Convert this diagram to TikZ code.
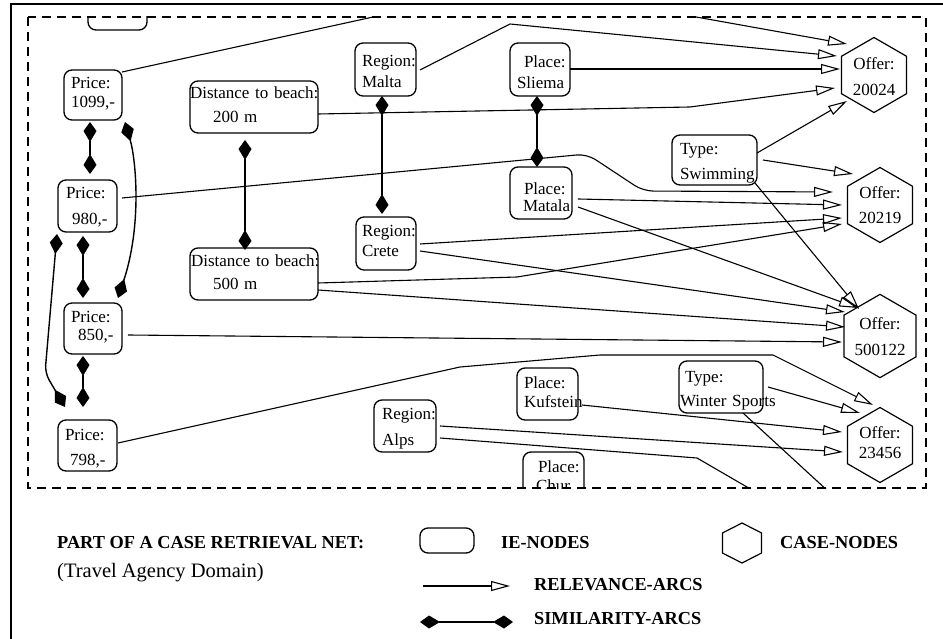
\documentclass[tikz,border=0pt]{standalone}
\usepackage{fontspec}
\setmainfont{Liberation Serif}
\usetikzlibrary{arrows.meta,shapes.geometric}

\newcommand\ienodefont{\fontsize{17}{20}\selectfont}
\newcommand\legendfont{\fontsize{18.3}{22}\selectfont\bfseries}
\newcommand\domainfont{\fontsize{20.5}{24}\selectfont}
% two lines of an IE node: first-line strut, extra line gap, two indents, two texts
\newcommand\ietwo[6]{\rule{0pt}{#1pt}\hspace*{#3pt}\mbox{#5}\\[#2pt]\rule[-5pt]{0pt}{5pt}\hspace*{#4pt}\mbox{#6}}
% two lines of a case node: first-line strut, extra gap, last-line depth, number
\newcommand\offertwo[4]{\rule{0pt}{#1pt}Offer:\\[#2pt]\rule[-#3pt]{0pt}{#3pt}#4}

\tikzset{
  ie/.style 2 args={draw, rounded corners=8pt, line width=1.3pt, inner sep=0pt,
    align=left, font=\ienodefont, minimum width=#1pt, text width=#1pt, minimum height=#2pt},
  casenode/.style={draw, regular polygon, regular polygon sides=6, shape border rotate=90,
    minimum size=75pt, inner sep=0pt, line width=1.2pt, align=center, font=\ienodefont},
  rel/.style={line width=1.1pt, -{Triangle[open, length=19pt, width=10pt]}},
  sim/.style={line width=1.4pt, {Kite[length=20pt, width=13pt, inset=11pt]}-{Kite[length=20pt, width=13pt, inset=11pt]}},
  legtext/.style={font=\legendfont, anchor=base west, inner sep=0pt},
  frame/.style={line width=2.5pt},
  netbox/.style={line width=1.5pt, dash pattern=on 9pt off 6pt}
}

\begin{document}
\begin{tikzpicture}[x=1pt, y=-1pt]
\useasboundingbox (0,0) rectangle (943,639);

% outer frame (left and top edges)
\draw[frame] (11,639) -- (11,4) -- (943,4);

\begin{scope}
\clip (28,17) rectangle (926,488);

% information-entity nodes
\node[ie={59}{52}] (topie) at (117.5,4) {};
\node[ie={58}{50}] (p1099) at (93,95) {\ietwo{12}{-1}{7}{7}{Price:}{1099,-}};
\node[ie={128}{52}] (d200) at (254,107) {\ietwo{11}{4}{0}{23}{Distance to beach:}{200 m}};
\node[ie={61}{53}] (malta) at (385.5,69.5) {\ietwo{21}{1}{7}{7}{Region:}{Malta}};
\node[ie={60}{53}] (sliema) at (540,69.5) {\ietwo{23}{1}{14}{7}{Place:}{Sliema}};
\node[ie={85}{50}] (swim) at (714.5,160) {\ietwo{20}{5}{8}{8}{Type:}{Swimming}};
\node[ie={62}{52}] (matala) at (541,193) {\ietwo{26}{-3}{14}{13}{Place:}{Matala}};
\node[ie={59}{52}] (p980) at (87.5,206) {\ietwo{17}{6}{8}{14}{Price:}{980,-}};
\node[ie={60}{53}] (crete) at (386,243.5) {\ietwo{12}{0}{6}{6}{Region:}{Crete}};
\node[ie={128}{52}] (d500) at (254,274) {\ietwo{14}{3}{1}{23}{Distance to beach:}{500 m}};
\node[ie={58}{51}] (p850) at (93,328.5) {\ietwo{12}{-2}{7}{14}{Price:}{850,-}};
\node[ie={84}{52}] (winter) at (721,387) {\ietwo{19}{4}{6}{1}{Type:}{Winter Sports}};
\node[ie={61}{52}] (kuf) at (547.5,394) {\ietwo{12}{-1}{7}{7}{Place:}{Kufstein}};
\node[ie={62}{52}] (alps) at (405,426) {\ietwo{17}{6}{8}{8}{Region:}{Alps}};
\node[ie={59}{51}] (p798) at (87.5,445.5) {\ietwo{19}{5}{7}{12}{Price:}{798,-}};
\node[ie={61}{52}] (chur) at (553.5,478) {\ietwo{12}{-1}{15}{13}{Place:}{Chur}};

% case nodes
\node[casenode] (o20024) at (874,75) {\offertwo{16}{6}{0}{20024}};
\node[casenode] (o20219) at (880,205) {\offertwo{13}{5}{0}{20219}};
\node[casenode] (o500122) at (880,336) {\offertwo{14}{6}{0}{500122}};
\node[casenode] (o23456) at (880,445) {\offertwo{12}{0}{6}{23456}};

% loose ends of arcs leaving the shown part of the net
\coordinate (exitA) at (790,512);
\coordinate (exitB) at (854,515);

% relevance arcs
\draw[rel] ([shift={(29,-23)}]p1099.center) -- (405,10) -- (657,10) -- ([shift={(-27,-31)}]o20024.center);
\draw[rel] ([shift={(34.5,0.5)}]malta.center) -- (510,24) -- ([shift={(-37,-19)}]o20024.center);
\draw[rel] ([shift={(30,-0.5)}]sliema.center) -- ([shift={(-34,-6)}]o20024.center);
\draw[rel] ([shift={(64,7)}]d200.center) -- (690,107) -- ([shift={(-39,13)}]o20024.center);
\draw[rel] ([shift={(42.5,-7)}]swim.center) -- ([shift={(-27,26)}]o20024.center);

\draw[rel, rounded corners=10pt] ([shift={(34.5,-8)}]p980.center) -- (587,154) -- (643,191) -- ([shift={(-47,-13)}]o20219.center);
\draw[rel] ([shift={(48.5,0)}]swim.center) -- ([shift={(-27,-31)}]o20219.center);
\draw[rel] ([shift={(37,6)}]matala.center) -- ([shift={(-38,0)}]o20219.center);
\draw[rel] ([shift={(34,0.5)}]crete.center) -- ([shift={(-38,13)}]o20219.center);
\draw[rel] ([shift={(64,9)}]d500.center) -- (517,277) -- ([shift={(-38,19)}]o20219.center);

\draw[rel] ([shift={(37,14)}]matala.center) -- ([shift={(-22,-28)}]o500122.center);
\draw[rel] ([shift={(40.5,23)}]swim.center) -- ([shift={(-21,-27)}]o500122.center);
\draw[rel] ([shift={(34,7.5)}]crete.center) -- ([shift={(-35,-24)}]o500122.center);
\draw[rel] ([shift={(64,16)}]d500.center) -- ([shift={(-35,-9)}]o500122.center);
\draw[rel] ([shift={(35,6.5)}]p850.center) -- ([shift={(-38,6)}]o500122.center);

\draw[rel] ([shift={(30.5,-2.5)}]p798.center) -- (460,367) -- (600,355) -- (773,355) -- ([shift={(-7,-40)}]o23456.center);
\draw[rel] ([shift={(47,0)}]winter.center) -- ([shift={(-20,-32)}]o23456.center);
\draw[rel] ([shift={(34.5,11)}]kuf.center) -- ([shift={(-38,-13)}]o23456.center);
\draw[rel] ([shift={(35,0)}]alps.center) -- ([shift={(-37,7)}]o23456.center);
\draw[line width=1.1pt] ([shift={(35,12)}]alps.center) -- (697,458) -- (exitA);
\draw[line width=1.1pt] ([shift={(22,26)}]winter.center) -- (exitB);

% similarity arcs
\draw[sim] ([shift={(-3,27)}]p1099.center) -- ([shift={(2.5,-32)}]p980.center);
\draw[sim] ([shift={(32,27)}]p1099.center) .. controls (136,160) and (142,225) .. ([shift={(25,-30.5)}]p850.center);
\draw[sim] ([shift={(-4.5,30)}]p980.center) -- ([shift={(-10,-30.5)}]p850.center);
\draw[sim, rounded corners=8pt] ([shift={(-30.5,28)}]p980.center) -- (45,373) -- ([shift={(-22.5,-38.5)}]p798.center);
\draw[sim] ([shift={(-10,27.5)}]p850.center) -- ([shift={(-4.5,-38.5)}]p798.center);
\draw[sim] ([shift={(-9,33)}]d200.center) -- ([shift={(-9,-24)}]d500.center);
\draw[sim] ([shift={(-3.5,26.5)}]malta.center) -- ([shift={(-4,-29.5)}]crete.center);
\draw[sim] ([shift={(-3,26.5)}]sliema.center) -- ([shift={(-4,-26)}]matala.center);
\end{scope}

% border of the shown part of the net
\draw[netbox] (28,17) rectangle (926,488);

% legend
\node[legtext] (title) at (57,548) {PART OF A CASE RETRIEVAL NET:};
\node[font=\domainfont, anchor=base west, inner sep=0pt] (domain) at (57,577) {(Travel Agency Domain)};
\node[ie={54}{25}] (iekey) at (447,540.5) {};
\node[legtext] (ielabel) at (501,548) {IE-NODES};
\node[casenode, minimum size=40pt, xscale=1.13, transform shape] (casekey) at (742,543) {};
\node[legtext] (caselabel) at (780,548) {CASE-NODES};
\coordinate (relA) at (423,586);
\coordinate (relB) at (510,586);
\draw[rel] (relA) -- (relB);
\node[legtext] (rellabel) at (534,590) {RELEVANCE-ARCS};
\coordinate (simA) at (420,622);
\coordinate (simB) at (513,622);
\draw[sim] (simA) -- (simB);
\node[legtext] (simlabel) at (534,624) {SIMILARITY-ARCS};
\end{tikzpicture}
\end{document}
